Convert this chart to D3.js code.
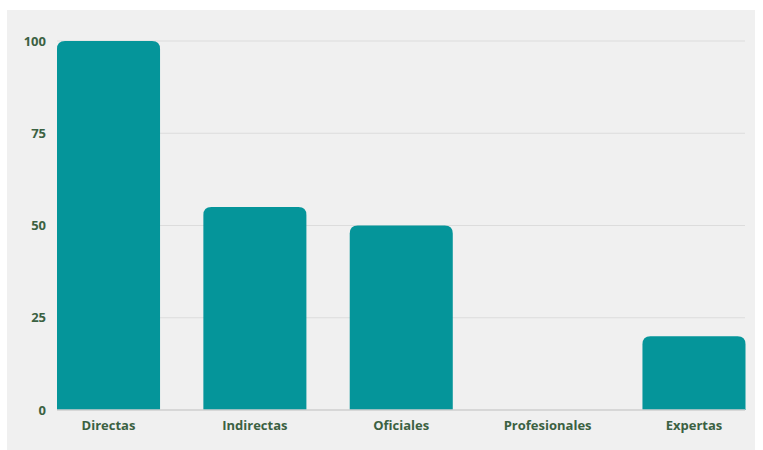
<!DOCTYPE html>
<html><head><meta charset="utf-8">
<script src="https://cdn.jsdelivr.net/npm/d3@7"></script>
<style>html,body{margin:0;padding:0;background:#fff;}svg{display:block;}</style>
</head><body>
<svg id="c" width="763" height="450"></svg>
<script>
const categories = ["Directas", "Indirectas", "Oficiales", "Profesionales", "Expertas"];
const values = [100, 55, 50, 0, 20];
const yTicks = [0, 25, 50, 75, 100];

const svg = d3.select("#c");
svg.append("rect").attr("x", 7).attr("y", 10).attr("width", 748).attr("height", 440).attr("fill", "#f0f0f0");

const x = d3.scaleBand().domain(categories).range([57, 745.5]).paddingInner(0.296).paddingOuter(0);
const y = d3.scaleLinear().domain([0, 100]).range([410, 41]);

// gridlines
svg.append("g").selectAll("line").data(yTicks.filter(d => d > 0)).join("line")
  .attr("x1", 57).attr("x2", 745).attr("y1", d => y(d)).attr("y2", d => y(d))
  .attr("stroke", "#dcdcdc").attr("stroke-width", 1);

// bars with rounded top corners
const r = 8;
svg.append("g").selectAll("path").data(categories.map((c, i) => ({c, v: values[i]})).filter(d => d.v > 0)).join("path")
  .attr("fill", "#05959a")
  .attr("d", d => {
    const x0 = x(d.c), x1 = x0 + x.bandwidth(), y0 = y(d.v), yb = y(0);
    return `M${x0},${yb}V${y0 + r}Q${x0},${y0} ${x0 + r},${y0}H${x1 - r}Q${x1},${y0} ${x1},${y0 + r}V${yb}Z`;
  });

// baseline
svg.append("line").attr("x1", 57).attr("x2", 745).attr("y1", y(0)).attr("y2", y(0))
  .attr("stroke", "#cfcfcf").attr("stroke-width", 1.5);

// y axis labels
const yAxis = d3.axisLeft(y).tickValues(yTicks).tickSize(0).tickPadding(0);
const gy = svg.append("g").attr("transform", "translate(46,0)").call(yAxis);
gy.select(".domain").remove();
gy.selectAll("text").attr("font-family", "Open Sans").attr("font-weight", "bold").attr("font-size", 13)
  .attr("fill", "#3b6142").attr("dy", "0.32em");

// x axis labels
const xAxis = d3.axisBottom(x).tickSize(0).tickPadding(0);
const gx = svg.append("g").attr("transform", "translate(0,421)").call(xAxis);
gx.select(".domain").remove();
gx.selectAll("text").attr("font-family", "Open Sans").attr("font-weight", "bold").attr("font-size", 13)
  .attr("fill", "#3b6142").attr("dy", "0.71em");
</script>
</body></html>
